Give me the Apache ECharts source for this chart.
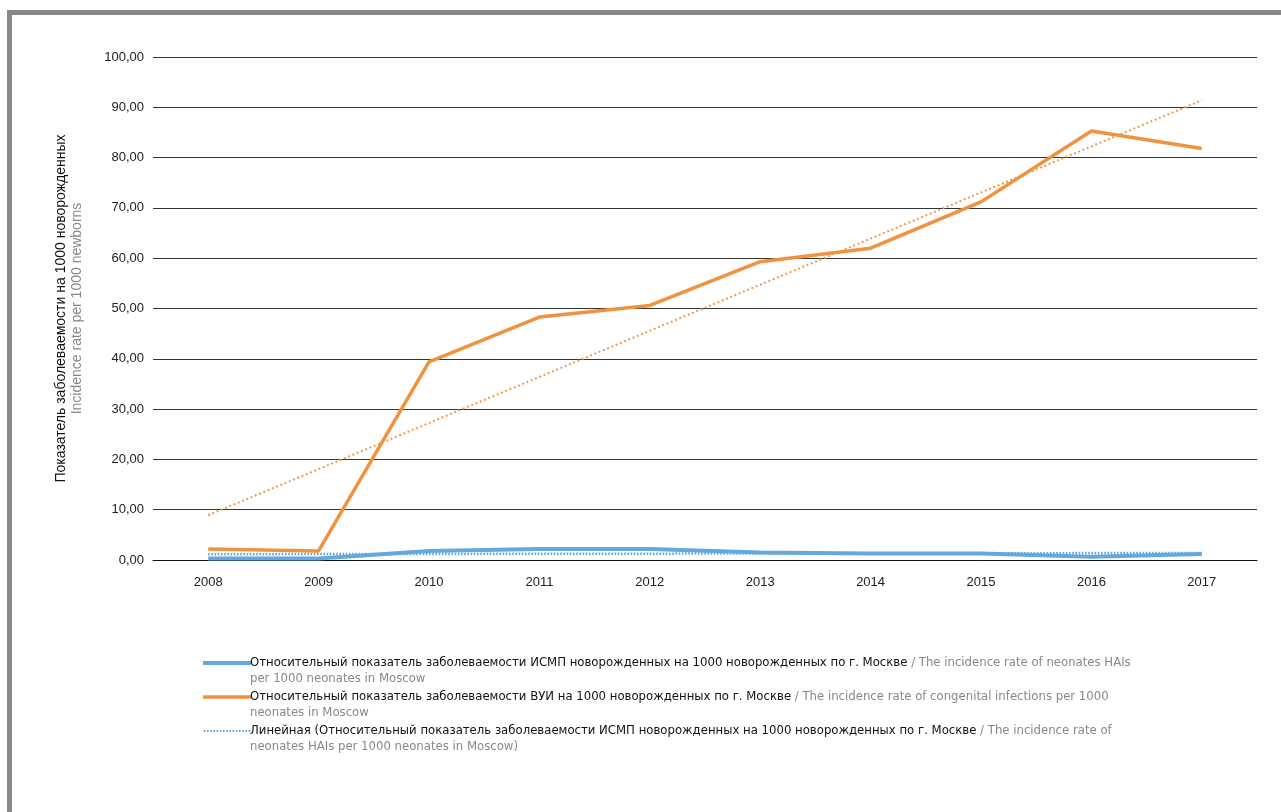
<!DOCTYPE html>
<html>
<head>
<meta charset="utf-8">
<script src="https://cdn.jsdelivr.net/npm/echarts@6/dist/echarts.min.js"></script>
<style>
  html, body { margin: 0; padding: 0; background: #fff; }
  #frame {
    position: absolute; left: 7px; top: 10px; width: 1274px; height: 802px;
    border-left: 5px solid #888; border-top: 5px solid #888; box-sizing: border-box;
  }
  #chart { position: absolute; left: 0; top: 0; width: 1281px; height: 812px; }
</style>
</head>
<body>
<div id="frame"></div>
<div id="chart"></div>
<script>
const years = ['2008', '2009', '2010', '2011', '2012', '2013', '2014', '2015', '2016', '2017']
// ИСМП (HAIs)
const haiRate = [0.3, 0.3, 1.8, 2.2, 2.2, 1.5, 1.3, 1.3, 0.65, 1.2]
// ВУИ (congenital infections)
const vuiRate = [2.2, 1.8, 39.4, 48.3, 50.6, 59.3, 62.0, 71.2, 85.3, 81.8]
// линии тренда: только концы, читаются с картинки
const haiTrend = [1.15, null, null, null, null, null, null, null, null, 1.4]
const vuiTrend = [8.9, null, null, null, null, null, null, null, null, 91.4]
const yTicks = [0, 10, 20, 30, 40, 50, 60, 70, 80, 90, 100]

const BLUE = '#65A8DF'
const ORANGE = '#F0923E'
const FONT = '"DejaVu Sans Condensed", sans-serif'
const SANS = '"Liberation Sans", sans-serif'

const LEGEND_TEXT = {
  hai: ['{a|Относительный показатель заболеваемости ИСМП новорожденных на 1000 новорожденных по г. Москве}{b| / The incidence rate of neonates HAIs}',
        '{b|per 1000 neonates in Moscow}'],
  vui: ['{a|Относительный показатель заболеваемости ВУИ на 1000 новорожденных по г. Москве}{b| / The incidence rate of congenital infections per 1000}',
        '{b|neonates in Moscow}'],
  haiTrend: ['{a|Линейная (Относительный показатель заболеваемости ИСМП новорожденных на 1000 новорожденных по г. Москве}{b| / The incidence rate of}',
             '{b|neonates HAIs per 1000 neonates in Moscow)}'],
}

// иконки легенды: полоска у первой строки текста (бокс 48x32)
function barIcon(h) {
  const y0 = 8 - h / 2
  return 'path://M0,0h0.01v0.01h-0.01z M0,' + y0 + 'h48v' + h + 'h-48z M0,32h0.01v0.01h-0.01z'
}
function dotIcon() {
  let p = 'path://M0,0h0.01v0.01h-0.01z'
  for (let x = 0; x < 48; x += 3.2) p += ' M' + x + ',7h1.6v2h-1.6z'
  return p + ' M0,32h0.01v0.01h-0.01z'
}

const chart = echarts.init(document.getElementById('chart'))
chart.setOption({
  backgroundColor: 'transparent',
  animation: false,
  textStyle: { fontFamily: FONT },
  grid: { left: 153, right: 24, top: 57, bottom: 252 },
  xAxis: {
    type: 'category',
    data: years,
    boundaryGap: true,
    axisLine: { lineStyle: { color: '#111', width: 1 } },
    axisTick: { show: false },
    axisLabel: { color: '#222', fontSize: 13, margin: 16, fontFamily: SANS },
  },
  yAxis: {
    type: 'value',
    min: 0,
    max: 100,
    interval: 10,
    name: '{a|Показатель заболеваемости на 1000 новорожденных}\n{b|Incidence rate per 1000 newborns}',
    nameLocation: 'middle',
    nameRotate: 90,
    nameGap: 68,
    nameTextStyle: {
      rich: {
        a: { fontSize: 14, color: '#111', lineHeight: 16, fontFamily: SANS },
        b: { fontSize: 14, color: '#888', lineHeight: 16, fontFamily: SANS },
      },
    },
    axisLine: { show: false },
    axisTick: { show: false },
    axisLabel: {
      color: '#222', fontSize: 13, margin: 9, fontFamily: SANS,
      formatter: (v) => yTicks.includes(v) ? v.toFixed(2).replace('.', ',') : '',
    },
    splitLine: { lineStyle: { color: '#333', width: 1.2 } },
  },
  legend: {
    orient: 'vertical',
    left: 198,
    top: 650,
    itemWidth: 48,
    itemHeight: 32,
    itemGap: 2,
    data: [
      { name: 'hai', icon: barIcon(4) },
      { name: 'vui', icon: barIcon(3.5) },
      { name: 'haiTrend', icon: dotIcon() },
    ],
    formatter: (name) => LEGEND_TEXT[name].join('\n'),
    textStyle: {
      padding: [0, 0, 0, -6],
      rich: {
        a: { fontSize: 13, color: '#111', lineHeight: 16, fontFamily: FONT },
        b: { fontSize: 13, color: '#888', lineHeight: 16, fontFamily: FONT },
      },
    },
    selectedMode: false,
  },
  series: [
    {
      name: 'vuiTrend', type: 'line', data: vuiTrend, connectNulls: true,
      symbol: 'none', itemStyle: { color: ORANGE },
      lineStyle: { color: ORANGE, width: 2, type: [1.8, 2.8] }, z: 2,
    },
    {
      name: 'haiTrend', type: 'line', data: haiTrend, connectNulls: true,
      symbol: 'none', itemStyle: { color: BLUE },
      lineStyle: { color: BLUE, width: 2.5, type: [1.6, 1.6] }, z: 2,
    },
    {
      name: 'vui', type: 'line', data: vuiRate,
      symbol: 'none', itemStyle: { color: ORANGE },
      lineStyle: { color: ORANGE, width: 3.5 }, z: 3,
    },
    {
      name: 'hai', type: 'line', data: haiRate,
      symbol: 'none', itemStyle: { color: BLUE },
      lineStyle: { color: BLUE, width: 4 }, z: 4,
    },
  ],
})
</script>
</body>
</html>
